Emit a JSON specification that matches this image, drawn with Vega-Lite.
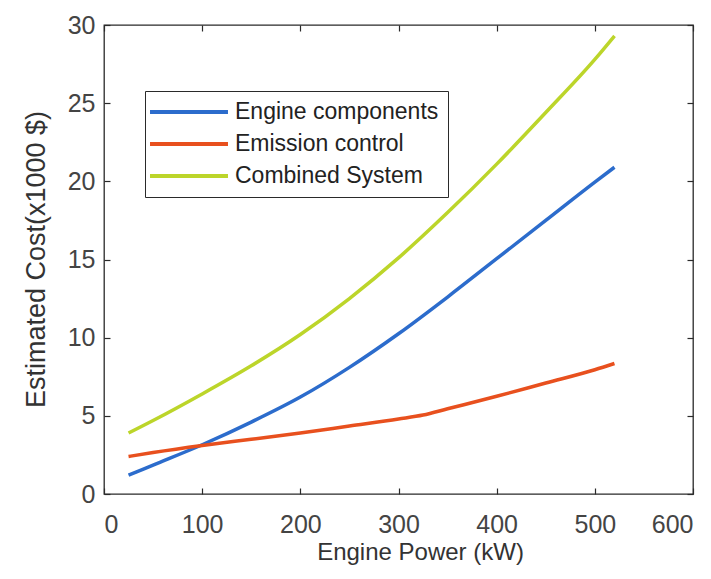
{
  "$schema": "https://vega.github.io/schema/vega-lite/v6.json",
  "width": 589,
  "height": 469,
  "autosize": "none",
  "padding": {"left": 104, "top": 25, "right": 18, "bottom": 85},
  "background": "white",
  "config": {
    "font": "Liberation Sans",
    "view": {"stroke": "#2a2a2a", "strokeWidth": 1.3},
    "axis": {"grid": false, "domain": false, "tickSize": -6, "tickColor": "#2a2a2a", "tickWidth": 1.2, "labelColor": "#444", "titleColor": "#333", "labelFontSize": 25, "titleFontSize": 24, "titleFontWeight": "normal"}
  },
  "data": {"values": [
    {"p": 25, "c": 1.2, "s": "Engine components"},
    {"p": 50, "c": 1.85, "s": "Engine components"},
    {"p": 100, "c": 3.15, "s": "Engine components"},
    {"p": 150, "c": 4.6, "s": "Engine components"},
    {"p": 200, "c": 6.2, "s": "Engine components"},
    {"p": 250, "c": 8.1, "s": "Engine components"},
    {"p": 300, "c": 10.25, "s": "Engine components"},
    {"p": 350, "c": 12.6, "s": "Engine components"},
    {"p": 400, "c": 15.05, "s": "Engine components"},
    {"p": 450, "c": 17.5, "s": "Engine components"},
    {"p": 500, "c": 19.95, "s": "Engine components"},
    {"p": 520, "c": 20.9, "s": "Engine components"},
    {"p": 25, "c": 2.4, "s": "Emission control"},
    {"p": 50, "c": 2.65, "s": "Emission control"},
    {"p": 100, "c": 3.1, "s": "Emission control"},
    {"p": 150, "c": 3.5, "s": "Emission control"},
    {"p": 200, "c": 3.9, "s": "Emission control"},
    {"p": 250, "c": 4.35, "s": "Emission control"},
    {"p": 300, "c": 4.8, "s": "Emission control"},
    {"p": 325, "c": 5.05, "s": "Emission control"},
    {"p": 350, "c": 5.45, "s": "Emission control"},
    {"p": 400, "c": 6.25, "s": "Emission control"},
    {"p": 450, "c": 7.1, "s": "Emission control"},
    {"p": 500, "c": 7.95, "s": "Emission control"},
    {"p": 520, "c": 8.35, "s": "Emission control"},
    {"p": 25, "c": 3.9, "s": "Combined System"},
    {"p": 50, "c": 4.7, "s": "Combined System"},
    {"p": 100, "c": 6.4, "s": "Combined System"},
    {"p": 150, "c": 8.2, "s": "Combined System"},
    {"p": 200, "c": 10.2, "s": "Combined System"},
    {"p": 250, "c": 12.5, "s": "Combined System"},
    {"p": 300, "c": 15.1, "s": "Combined System"},
    {"p": 350, "c": 18.0, "s": "Combined System"},
    {"p": 400, "c": 21.1, "s": "Combined System"},
    {"p": 450, "c": 24.4, "s": "Combined System"},
    {"p": 500, "c": 27.8, "s": "Combined System"},
    {"p": 520, "c": 29.3, "s": "Combined System"}
  ]},
  "layer": [
    {
      "mark": {"type": "line", "strokeWidth": 3.5, "interpolate": "monotone"},
      "encoding": {
        "x": {"field": "p", "type": "quantitative", "scale": {"domain": [0, 600], "nice": false}, "axis": {"orient": "bottom", "values": [0,100,200,300,400,500,600], "title": "Engine Power (kW)", "labelPadding": 24, "titleX": 316, "titleY": 58, "titleBaseline": "middle", "titleAlign": "center"}},
        "y": {"field": "c", "type": "quantitative", "scale": {"domain": [0, 30], "nice": false}, "axis": {"orient": "left", "values": [0,5,10,15,20,25,30], "title": "Estimated Cost(x1000 $)", "labelPadding": 15, "titleFontSize": 27, "titleX": -68, "titleY": 234, "titleBaseline": "middle", "titleAlign": "center"}},
        "color": {"field": "s", "type": "nominal", "sort": ["Engine components", "Emission control", "Combined System"],
          "scale": {"domain": ["Engine components", "Emission control", "Combined System"], "range": ["#2c6ccc", "#e8501e", "#bcd52a"]},
          "legend": {"orient": "none", "legendX": 41, "legendY": 66, "title": null, "strokeColor": "#2a2a2a", "fillColor": "white", "padding": 9, "symbolType": "M-4,0H4", "symbolSize": 380, "symbolOffset": 23, "symbolStrokeWidth": 4, "labelFontSize": 23, "labelColor": "#222", "labelLimit": 0, "rowPadding": 8, "labelOffset": 34}}
      }
    },
    {
      "mark": {"type": "point", "opacity": 0},
      "encoding": {
        "x": {"field": "p", "type": "quantitative", "axis": {"orient": "top", "values": [0,100,200,300,400,500,600], "labels": false, "title": null}},
        "y": {"field": "c", "type": "quantitative", "axis": {"orient": "right", "values": [0,5,10,15,20,25,30], "labels": false, "title": null}}
      }
    }
  ],
  "resolve": {"axis": {"x": "independent", "y": "independent"}}
}
